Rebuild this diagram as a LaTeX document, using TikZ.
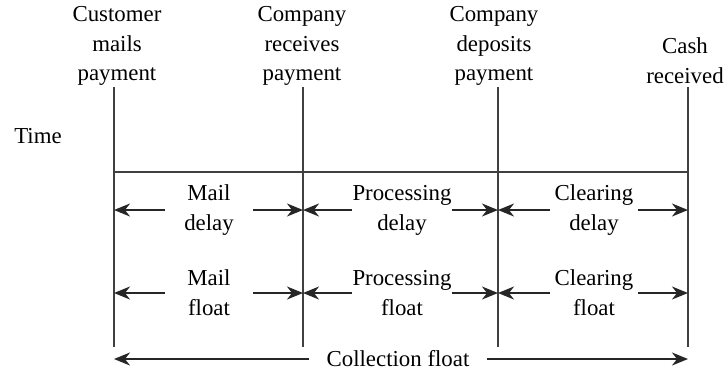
\documentclass[tikz,border=0pt]{standalone}
\usepackage{fontspec}
\setmainfont{Liberation Serif}
\usetikzlibrary{arrows.meta}

\begin{document}
\begin{tikzpicture}[x=0.02cm, y=-0.02cm,
        lbl/.style={align=center, inner sep=0pt, font=\fontsize{13}{17}\selectfont},
        gap/.style={lbl, minimum width=1.76cm},
        tick/.style={draw=black!75, line width=1.4pt},
        arrow/.style={-{Stealth[length=3.2mm, width=2.6mm, inset=1mm]}, draw=black!85, line width=1pt}
      ]
        \useasboundingbox (0,0) rectangle (725,370);

        \node[lbl] (cust) at (117,46) {Customer\\mails\\payment};
        \node[lbl] (recv) at (302,46) {Company\\receives\\payment};
        \node[lbl] (depo) at (494,46) {Company\\deposits\\payment};
        \node[lbl] (cash) at (685,61) {Cash\\received};
        \node[lbl] (time) at (38,136) {Time};

        \coordinate (l1t) at (114,87);  \coordinate (l1b) at (114,347);
        \coordinate (l2t) at (303,87);  \coordinate (l2b) at (303,347);
        \coordinate (l3t) at (498,87);  \coordinate (l3b) at (498,347);
        \coordinate (l4t) at (688,87);  \coordinate (l4b) at (688,347);

        \draw[tick] (l1t) -- (l1b);
        \draw[tick] (l2t) -- (l2b);
        \draw[tick] (l3t) -- (l3b);
        \draw[tick] (l4t) -- (l4b);
        \draw[tick] (l1t |- 0,172) -- (l4t |- 0,172);

        \node[gap] (maild)  at (209,210) {Mail\\delay};
        \node[gap] (procd)  at (402,210) {Processing\\delay};
        \node[gap] (cleard) at (594,210) {Clearing\\delay};
        \node[gap] (mailf)  at (209,293) {Mail\\float};
        \node[gap] (procf)  at (402,293) {Processing\\float};
        \node[gap] (clearf) at (594,293) {Clearing\\float};
        \node[lbl, inner xsep=10pt] (coll) at (398,359) {Collection float};

        \draw[arrow] (maild.west)  -- (maild.west -| l1t);
        \draw[arrow] (maild.east)  -- (maild.east -| l2t);
        \draw[arrow] (procd.west)  -- (procd.west -| l2t);
        \draw[arrow] (procd.east)  -- (procd.east -| l3t);
        \draw[arrow] (cleard.west) -- (cleard.west -| l3t);
        \draw[arrow] (cleard.east) -- (cleard.east -| l4t);
        \draw[arrow] (mailf.west)  -- (mailf.west -| l1t);
        \draw[arrow] (mailf.east)  -- (mailf.east -| l2t);
        \draw[arrow] (procf.west)  -- (procf.west -| l2t);
        \draw[arrow] (procf.east)  -- (procf.east -| l3t);
        \draw[arrow] (clearf.west) -- (clearf.west -| l3t);
        \draw[arrow] (clearf.east) -- (clearf.east -| l4t);
        \draw[arrow] (coll.west) -- (coll.west -| l1t);
        \draw[arrow] (coll.east) -- (coll.east -| l4t);
      \end{tikzpicture}
\end{document}
